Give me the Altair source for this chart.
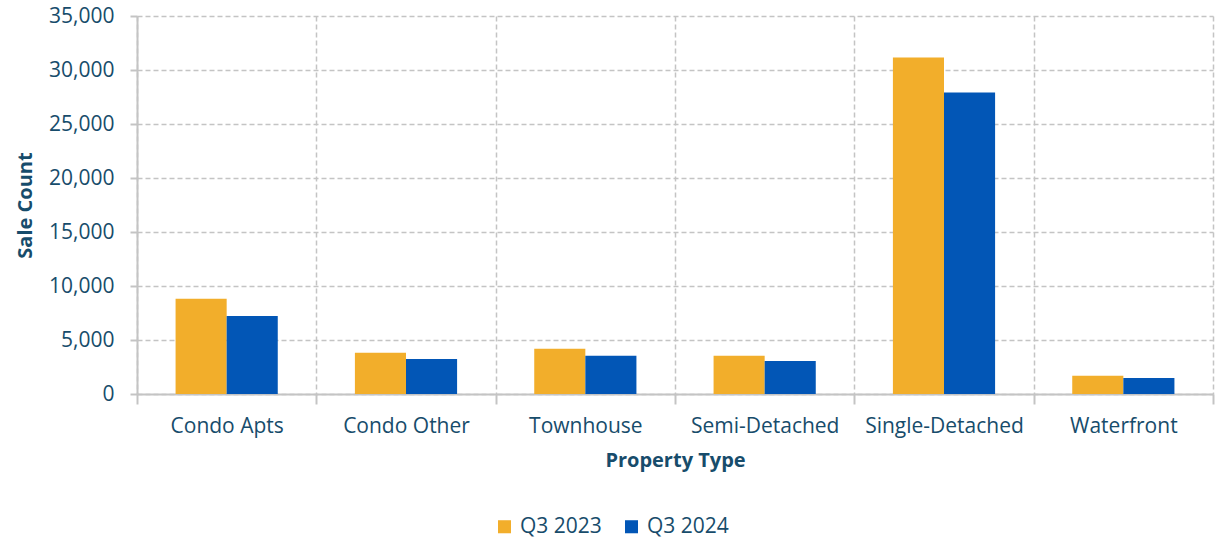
import altair as alt
import pandas as pd

categories = ["Condo Apts", "Condo Other", "Townhouse", "Semi-Detached", "Single-Detached", "Waterfront"]
series_names = ["Q3 2023", "Q3 2024"]
q3_2023 = [8830, 3810, 4180, 3540, 31150, 1690]
q3_2024 = [7230, 3240, 3540, 3050, 27920, 1480]
y_ticks = [0, 5000, 10000, 15000, 20000, 25000, 30000, 35000]

rows = []
for c, a, b in zip(categories, q3_2023, q3_2024):
    rows.append({"Property Type": c, "Period": series_names[0], "Sale Count": a})
    rows.append({"Property Type": c, "Period": series_names[1], "Sale Count": b})
df = pd.DataFrame(rows)

TEXT = "#174c6b"
GRID = "#c4c4c4"
FONT = "Open Sans"

chart = alt.Chart(df).mark_bar().encode(
    x=alt.X("Property Type:N", sort=categories,
            scale=alt.Scale(paddingInner=0, paddingOuter=0),
            axis=alt.Axis(title="Property Type", labelAngle=0, tickBand="extent",
                          grid=True, gridDash=[5, 3], gridColor=GRID, gridWidth=1.5,
                          domainColor=GRID, domainWidth=2, tickColor=GRID, tickWidth=2,
                          tickSize=10, labelPadding=11, labelFontSize=21,
                          titleFontSize=20, titlePadding=14)),
    xOffset=alt.XOffset("Period:N", sort=series_names,
                        scale=alt.Scale(paddingInner=0, paddingOuter=0.755)),
    y=alt.Y("Sale Count:Q", scale=alt.Scale(domain=[0, 35000], nice=False),
            axis=alt.Axis(title="Sale Count", values=y_ticks, format=",d",
                          grid=True, gridDash=[5, 3], gridColor=GRID, gridWidth=1.5,
                          domainColor=GRID, domainWidth=2, tickColor=GRID, tickWidth=2,
                          tickSize=7, labelPadding=16, labelFontSize=21,
                          titleFontSize=20, titlePadding=13)),
    color=alt.Color("Period:N", sort=series_names,
                    scale=alt.Scale(domain=series_names, range=["#F2AE2B", "#0256B6"]),
                    legend=alt.Legend(title=None, orient="none", direction="horizontal",
                                      legendX=357, legendY=500,
                                      symbolType="square", symbolSize=170,
                                      symbolStrokeWidth=0, symbolOpacity=1,
                                      labelFontSize=21, labelColor=TEXT,
                                      labelOffset=5, columnPadding=19)),
).properties(
    width=1076, height=378,
    autosize=alt.AutoSizeParams(type="none"),
    padding={"left": 137, "top": 16, "right": 4, "bottom": 145},
).configure(
    font=FONT,
).configure_axis(
    labelColor=TEXT, titleColor=TEXT, labelFont=FONT, titleFont=FONT,
    titleFontWeight="bold",
).configure_view(
    stroke=None,
).configure_legend(
    labelFont=FONT,
)

chart.save("out.html", embed_options={"renderer": "svg", "actions": False})
